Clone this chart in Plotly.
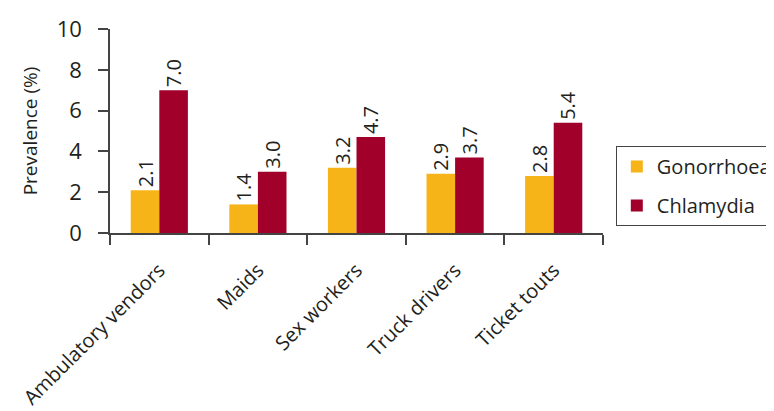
import plotly.graph_objects as go

categories = ["Ambulatory vendors", "Maids", "Sex workers", "Truck drivers", "Ticket touts"]
gonorrhoea = [2.1, 1.4, 3.2, 2.9, 2.8]
chlamydia = [7.0, 3.0, 4.7, 3.7, 5.4]
y_ticks = [0, 2, 4, 6, 8, 10]

FONT = "Open Sans"
TXT = "#231f20"

fig = go.Figure()
fig.add_trace(go.Bar(
    name="Gonorrhoea", x=categories, y=gonorrhoea, legendgroup="g",
    marker=dict(color="#F7B418", line=dict(width=0)),
    text=[f"{v:.1f}" for v in gonorrhoea], textposition="outside", textangle=-90,
    textfont=dict(size=20, color=TXT, family=FONT), cliponaxis=False,
))
fig.add_trace(go.Bar(
    name="Chlamydia", x=categories, y=chlamydia, legendgroup="c",
    marker=dict(color="#A0002A", line=dict(width=0)),
    text=[f"{v:.1f}" for v in chlamydia], textposition="outside", textangle=-90,
    textfont=dict(size=20, color=TXT, family=FONT), cliponaxis=False,
))

fig.update_layout(
    width=766, height=403,
    margin=dict(l=102, r=171, t=21, b=178, autoexpand=False),
    paper_bgcolor="white", plot_bgcolor="white",
    font=dict(family=FONT, size=22, color=TXT),
    barmode="group", bargap=0.42, bargroupgap=0,
    showlegend=True,
    legend=dict(x=1.026, y=0.426, xanchor="left", yanchor="top",
                bordercolor="#444", borderwidth=1, bgcolor="white",
                font=dict(size=20, color=TXT, family=FONT),
                traceorder="grouped", tracegroupgap=10),
)
fig.update_xaxes(
    type="category", tickson="boundaries", ticks="outside", ticklen=10,
    tickcolor="#444", tickwidth=1.5, showline=True, linecolor="#444", linewidth=1.5,
    tickangle=-45, tickfont=dict(size=20, color=TXT, family=FONT), showgrid=False,
    automargin=False, ticklabelstandoff=16,
)
fig.update_yaxes(
    range=[0, 10], tickvals=y_ticks, ticks="outside", ticklen=10,
    tickcolor="#444", tickwidth=1.5, showline=True, linecolor="#444", linewidth=1.5,
    showgrid=False, zeroline=False, automargin=False, ticklabelstandoff=12,
    title=dict(text="Prevalence (%)", font=dict(size=19, color=TXT, family=FONT), standoff=14),
    tickfont=dict(size=22, color=TXT, family=FONT),
)

fig.write_html("out.html")
